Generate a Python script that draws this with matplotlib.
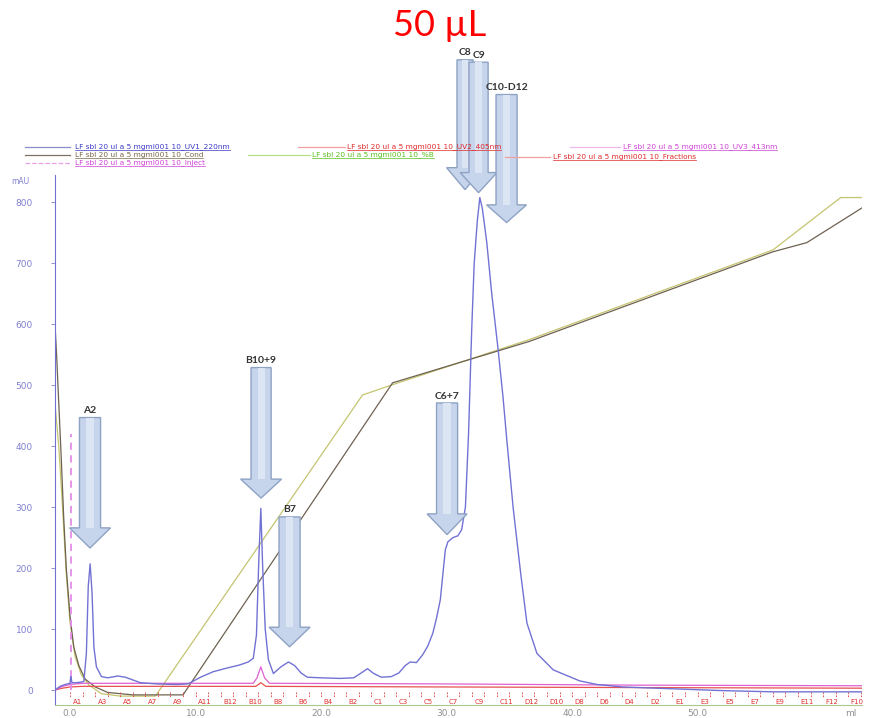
import matplotlib
matplotlib.use("Agg")
import matplotlib.pyplot as plt
from matplotlib.patches import Polygon
from matplotlib.lines import Line2D

# ---------------- data ----------------
uv1_ml = [-1.2, -0.8, -0.4, 0.0, 0.05, 0.1, 0.15, 0.5, 0.9, 1.1, 1.3, 1.45, 1.6, 1.75, 1.9, 2.1, 2.5,
          3.0, 3.8, 4.4, 5.6, 6.9, 8.5, 9.4, 10.4, 11.4, 12.5, 13.5, 14.2, 14.6, 14.85, 15.05, 15.2,
          15.35, 15.55, 15.8, 16.2, 16.8, 17.4, 17.9, 18.4, 18.9, 20.0, 21.5, 22.6, 23.2, 23.7, 24.2,
          24.8, 25.6, 26.2, 26.7, 27.1, 27.6, 28.1, 28.5, 28.9, 29.2, 29.5, 29.9, 30.1, 30.5, 30.9,
          31.2, 31.5, 31.75, 32.0, 32.2, 32.45, 32.65, 32.85, 33.2, 33.6, 34.1, 34.5, 34.8, 35.3,
          35.9, 36.4, 37.2, 38.5, 40.6, 42.0, 44.0, 48.0, 52.0, 56.0, 63.1]
uv1_mau = [0, 6, 9, 11, 22, 18, 12, 12, 13, 14, 60, 170, 207, 160, 70, 38, 22,
           20, 23, 21, 12, 10, 9, 10, 21, 30, 36, 41, 46, 52, 90, 220, 298,
           200, 100, 50, 27, 38, 46, 40, 28, 21, 20, 19, 20, 28, 35, 27,
           21, 22, 28, 40, 46, 45, 58, 72, 93, 118, 148, 230, 243, 250, 253,
           263, 300, 420, 590, 700, 770, 808, 790, 735, 650, 560, 480, 410, 300,
           192, 110, 60, 33, 15, 9, 5, 2, -1, -3, -3]

uv2_ml = [-1.2, -0.6, 0.0, 1.0, 14.8, 15.2, 15.6, 30.0, 45.0, 63.1]
uv2_mau = [0, 3, 5, 6, 6, 12, 6, 5, 4, 3]

uv3_ml = [-1.2, -0.6, 0.0, 1.0, 14.6, 14.9, 15.2, 15.5, 15.9, 30.0, 45.0, 63.1]
uv3_mau = [0, 6, 9, 11, 11, 20, 38, 20, 11, 10, 8, 7]

cond_ml = [-1.2, -1.05, -0.9, -0.7, -0.5, -0.3, 0.0, 0.3, 0.7, 1.2, 2.0, 3.0, 5.0, 9.0,
           25.7, 36.6, 56.0, 58.7, 63.1]
cond_mau = [600, 540, 470, 380, 280, 200, 120, 70, 40, 18, 5, -4, -8, -8,
            504, 572, 719, 734, 791]

concb_ml = [-1.2, -0.9, -0.6, -0.3, 0.0, 0.4, 0.9, 1.5, 2.5, 4.0, 6.8, 23.3, 25.7,
            36.6, 56.0, 61.4, 63.1]
concb_mau = [470, 400, 300, 190, 110, 55, 25, 8, -6, -10, -10, 484, 501,
             575, 722, 808, 808]

inject_ml = 0.1
inject_top = 420

frac_edges = list(range(0, 64))
frac_label_pos = list(range(0, 64, 2))
frac_labels = ["A1", "A3", "A5", "A7", "A9", "A11", "B12", "B10", "B8", "B6", "B4", "B2",
               "C1", "C3", "C5", "C7", "C9", "C11", "D12", "D10", "D8", "D6", "D4", "D2",
               "E1", "E3", "E5", "E7", "E9", "E11", "F12", "F10"]

# annotation arrows: label, x (ml), tip (mAU), head base (mAU), top (mAU), shaft half width, head half width (ml)
arrows = [
    ("A2", 1.59, 233, 266, 447, 0.84, 1.63),
    ("B10+9", 15.22, 315, 346, 529, 0.80, 1.63),
    ("B7", 17.49, 71, 103, 284, 0.84, 1.63),
    ("C6+7", 30.04, 255, 289, 471, 0.84, 1.59),
    ("C8", 31.47, 821, 857, 1034, 0.64, 1.47),
    ("C9", 32.55, 816, 849, 1030, 0.76, 1.47),
    ("C10-D12", 34.78, 767, 796, 977, 0.84, 1.59),
]

yticks = [0, 100, 200, 300, 400, 500, 600, 700, 800]
xticks = [0, 10, 20, 30, 40, 50, 62.2]
xticklabels = ["0.0", "10.0", "20.0", "30.0", "40.0", "50.0", "ml"]

legend_name = "LF sbl 20 ul a 5 mgml001 10_"
legend_entries = [
    # suffix, line colour, text colour, linestyle, line x0, line x1, text x, y (pixels)
    ("UV1_220nm", "#8c8cc8", "#3a3ac8", "-", 25, 70, 75, 147),
    ("UV2_405nm", "#f0a0a0", "#e02828", "-", 298, 345, 347, 147),
    ("UV3_413nm", "#f0b8f0", "#d040d8", "-", 570, 620, 623, 147),
    ("Cond", "#807060", "#786848", "-", 25, 70, 75, 155),
    ("%B", "#b8e088", "#58c020", "-", 248, 310, 312, 155),
    ("Fractions", "#f0a0a0", "#e02828", "-", 505, 550, 553, 157),
    ("Inject", "#e8a0e8", "#d040d8", "--", 25, 70, 75, 163),
]

# ---------------- figure ----------------
W, H = 870, 718
fig = plt.figure(figsize=(W / 100, H / 100), dpi=100)
ax = fig.add_axes([55 / W, 1 - 705 / H, (862 - 55) / W, (705 - 175) / H])
ax.set_xlim(-1.2, 63.1)
ax.set_ylim(-24.6, 845)

ax.plot(concb_ml, concb_mau, color="#c4c470", lw=0.9, zorder=2)
ax.plot(cond_ml, cond_mau, color="#6e6250", lw=0.9, zorder=2)
ax.plot(uv2_ml, uv2_mau, color="#e85050", lw=0.9, zorder=3)
ax.plot(uv3_ml, uv3_mau, color="#e060d0", lw=0.9, zorder=3)
ax.plot(uv1_ml, uv1_mau, color="#7272d4", lw=1.0, zorder=4)
ax.vlines(inject_ml, 0, inject_top, colors="#e48ce8", linestyles=(0, (4, 3)), lw=1.3, zorder=3)

# fractions
ax.vlines(frac_edges, -3, -12, colors="#e03838", lw=0.6, linestyles=(0, (2, 1.5)), zorder=3)
for p, lab in zip(frac_label_pos, frac_labels):
    ax.text(p + 0.2, -19, lab, color="#e03030", fontsize=5, ha="left", va="center", zorder=3)

# axes styling
for s in ["top", "right"]:
    ax.spines[s].set_visible(False)
ax.spines["left"].set_color("#7070d0")
ax.spines["bottom"].set_color("#a8c890")
ax.set_yticks(yticks)
ax.set_yticklabels([str(v) for v in yticks])
ax.tick_params(axis="y", colors="#8080d0", labelsize=6.5, length=3, width=0.6, pad=13)
ax.set_xticks(xticks)
ax.set_xticklabels(xticklabels)
ax.tick_params(axis="x", colors="#909090", labelsize=6.5, length=0, pad=3)
fig.text(20 / W, 1 - 181 / H, "mAU", color="#8080d0", fontsize=5.5, ha="center", va="center")

# arrows
for lab, xc, tip, hb, top, sw, hw in arrows:
    pts = [(xc - sw, top), (xc + sw, top), (xc + sw, hb), (xc + hw, hb), (xc, tip),
           (xc - hw, hb), (xc - sw, hb)]
    poly = Polygon(pts, closed=True, facecolor="#c6d5ec", edgecolor="#8ea2c4", lw=1.0,
                   zorder=10, clip_on=False)
    ax.add_patch(poly)
    inner = Polygon([(xc - sw * 0.35, top), (xc + sw * 0.35, top), (xc + sw * 0.35, hb),
                     (xc - sw * 0.35, hb)], closed=True, facecolor="#dbe5f4", edgecolor="none",
                    zorder=10.5, clip_on=False)
    ax.add_patch(inner)
    ax.text(xc, top + 4, lab, fontsize=7.5, fontweight="bold", family="Lato", color="#333333",
            ha="center", va="bottom", zorder=11, clip_on=False)

# legend (figure pixels)
texts = []
for suf, lc, tc, ls, x0, x1, tx, y in legend_entries:
    yy = 1 - y / H
    fig.add_artist(Line2D([x0 / W, x1 / W], [yy, yy], color=lc, lw=0.9, linestyle=ls, zorder=1))
    t = fig.text(tx / W, yy, legend_name + suf, color=tc, fontsize=5.3, ha="left", va="center",
                 zorder=1)
    texts.append((t, tc))

fig.canvas.draw()
r = fig.canvas.get_renderer()
for t, tc in texts:
    bb = t.get_window_extent(r)
    yb = (bb.y0 + 0.5) / H
    fig.add_artist(Line2D([bb.x0 / W, bb.x1 / W], [yb, yb], color=tc, lw=0.5, zorder=1))

# title
fig.text(440 / W, 1 - 26 / H, "50 µL", color="#ff0000", fontsize=26, family="Lato",
         ha="center", va="center")

fig.savefig("out.png", dpi=100)
